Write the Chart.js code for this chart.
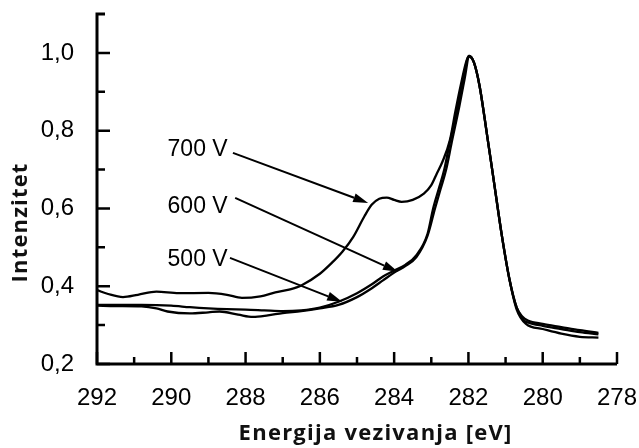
<!DOCTYPE html>
<html>
<head>
<meta charset="utf-8">
<script src="https://cdn.jsdelivr.net/npm/chart.js@4/dist/chart.umd.min.js"></script>
<style>
  html, body { margin: 0; padding: 0; background: #fff; }
  #wrap { width: 639px; height: 448px; }
</style>
</head>
<body>
<div id="wrap"><canvas id="mycanvas" width="639" height="448"></canvas></div>
<script>
// binding energy (eV) and intensity
var e700 = [292.0, 291.7, 291.3, 290.9, 290.4, 289.8, 289.0, 288.5, 288.1, 287.6, 287.2, 286.8, 286.5, 286.0, 285.7, 285.4, 285.1, 284.8, 284.6, 284.4, 284.2, 284.0, 283.8, 283.5, 283.2, 283.0, 282.85, 282.7, 282.5, 282.35, 282.2, 282.05, 281.98, 281.85, 281.7, 281.5, 281.3, 281.1, 280.9, 280.7, 280.55, 280.4, 280.0, 279.5, 279.0, 278.5];
var i700 = [0.390, 0.380, 0.372, 0.378, 0.386, 0.382, 0.383, 0.378, 0.370, 0.374, 0.384, 0.392, 0.402, 0.432, 0.458, 0.488, 0.527, 0.580, 0.610, 0.625, 0.628, 0.622, 0.617, 0.622, 0.638, 0.660, 0.690, 0.720, 0.775, 0.850, 0.920, 0.980, 0.992, 0.975, 0.915, 0.790, 0.660, 0.530, 0.420, 0.345, 0.322, 0.312, 0.303, 0.295, 0.287, 0.280];

var e600 = [292.0, 291.5, 290.8, 290.0, 289.5, 289.0, 288.5, 288.0, 287.5, 287.0, 286.5, 286.0, 285.5, 285.0, 284.6, 284.3, 284.0, 283.7, 283.4, 283.1, 282.95, 282.8, 282.65, 282.5, 282.3, 282.15, 281.98, 281.85, 281.7, 281.5, 281.3, 281.1, 280.9, 280.7, 280.5, 280.4, 280.0, 279.5, 279.0, 278.5];
var i600 = [0.352, 0.352, 0.352, 0.350, 0.346, 0.343, 0.341, 0.340, 0.338, 0.336, 0.338, 0.345, 0.360, 0.382, 0.405, 0.425, 0.440, 0.455, 0.480, 0.535, 0.600, 0.650, 0.700, 0.770, 0.855, 0.930, 0.992, 0.975, 0.915, 0.790, 0.660, 0.530, 0.420, 0.345, 0.312, 0.307, 0.298, 0.290, 0.282, 0.276];

var e500 = [292.0, 291.5, 290.8, 290.4, 290.1, 289.5, 289.0, 288.7, 288.2, 287.8, 287.4, 287.0, 286.5, 286.0, 285.5, 285.0, 284.6, 284.3, 284.0, 283.7, 283.4, 283.1, 282.9, 282.75, 282.6, 282.45, 282.25, 282.1, 281.98, 281.85, 281.7, 281.5, 281.3, 281.1, 280.9, 280.7, 280.45, 280.0, 279.5, 279.0, 278.5];
var i500 = [0.350, 0.349, 0.348, 0.343, 0.335, 0.330, 0.333, 0.335, 0.327, 0.321, 0.325, 0.331, 0.336, 0.343, 0.352, 0.372, 0.395, 0.415, 0.435, 0.452, 0.475, 0.530, 0.600, 0.650, 0.700, 0.770, 0.860, 0.935, 0.990, 0.975, 0.915, 0.790, 0.660, 0.530, 0.420, 0.340, 0.303, 0.290, 0.278, 0.270, 0.268];

var xTicks = [292, 290, 288, 286, 284, 282, 280, 278];
var xMinor = [291, 289, 287, 285, 283, 281, 279];
var yTicks = [0.2, 0.4, 0.6, 0.8, 1.0];
var yMinor = [0.3, 0.5, 0.7, 0.9];

// arrow labels: text, label anchor, arrow start, arrow tip (energy, intensity)
var noteText = ['700 V', '600 V', '500 V'];
var noteAt = [[290.1, 0.751], [290.1, 0.604], [290.1, 0.468]];
var noteFrom = [[288.34, 0.743], [288.28, 0.627], [288.42, 0.473]];
var noteTo = [[284.70, 0.614], [283.90, 0.437], [285.40, 0.360]];

function pts(e, v) {
  var out = [];
  for (var i = 0; i < e.length; i++) out.push({x: e[i], y: v[i]});
  return out;
}

function lineSet(label, e, v) {
  return {
    label: label,
    data: pts(e, v),
    borderColor: '#000',
    borderWidth: 2.3,
    pointRadius: 0,
    fill: false,
    cubicInterpolationMode: 'monotone'
  };
}

// stretch a title to a given width with letter spacing
function spacedText(ctx, txt, cx, cy, width) {
  ctx.letterSpacing = '0px';
  var w = ctx.measureText(txt).width;
  var sp = (width - w) / txt.length;
  ctx.letterSpacing = sp + 'px';
  ctx.fillText(txt, cx + sp / 2, cy);
  ctx.letterSpacing = '0px';
}

var framePlugin = {
  id: 'frame',
  afterDatasetsDraw: function(chart) {
    var ctx = chart.ctx;
    var x = chart.scales.x, y = chart.scales.y;
    var a = chart.chartArea;
    ctx.save();
    ctx.strokeStyle = '#000';
    ctx.lineCap = 'butt';

    // axis lines
    ctx.lineWidth = 3;
    ctx.beginPath();
    ctx.moveTo(a.left + 8, a.top);
    ctx.lineTo(a.left, a.top);
    ctx.lineTo(a.left, a.bottom);
    ctx.lineTo(a.right, a.bottom);
    ctx.stroke();

    // inward ticks
    ctx.lineWidth = 2.5;
    ctx.beginPath();
    xTicks.forEach(function(t) {
      var px = x.getPixelForValue(t);
      ctx.moveTo(px, a.bottom); ctx.lineTo(px, a.bottom - 12);
    });
    xMinor.forEach(function(t) {
      var px = x.getPixelForValue(t);
      ctx.moveTo(px, a.bottom); ctx.lineTo(px, a.bottom - 7);
    });
    yTicks.forEach(function(t) {
      var py = y.getPixelForValue(t);
      ctx.moveTo(a.left, py); ctx.lineTo(a.left + 13, py);
    });
    yMinor.forEach(function(t) {
      var py = y.getPixelForValue(t);
      ctx.moveTo(a.left, py); ctx.lineTo(a.left + 8, py);
    });
    ctx.stroke();

    // arrows with labels
    ctx.fillStyle = '#000';
    ctx.font = '23px "Liberation Sans", Arial, sans-serif';
    ctx.textBaseline = 'middle';
    ctx.textAlign = 'left';
    for (var i = 0; i < noteText.length; i++) {
      ctx.fillText(noteText[i], x.getPixelForValue(noteAt[i][0]), y.getPixelForValue(noteAt[i][1]));
      var x0 = x.getPixelForValue(noteFrom[i][0]), y0 = y.getPixelForValue(noteFrom[i][1]);
      var x1 = x.getPixelForValue(noteTo[i][0]), y1 = y.getPixelForValue(noteTo[i][1]);
      var ang = Math.atan2(y1 - y0, x1 - x0);
      var len = 15, half = 4.5;
      var bx = x1 - len * Math.cos(ang), by = y1 - len * Math.sin(ang);
      ctx.lineWidth = 2;
      ctx.beginPath();
      ctx.moveTo(x0, y0); ctx.lineTo(bx, by);
      ctx.stroke();
      ctx.beginPath();
      ctx.moveTo(x1, y1);
      ctx.lineTo(bx + half * Math.sin(ang), by - half * Math.cos(ang));
      ctx.lineTo(bx - half * Math.sin(ang), by + half * Math.cos(ang));
      ctx.closePath();
      ctx.fill();
    }

    // axis titles
    ctx.font = 'bold 22px "Open Sans", sans-serif';
    ctx.textAlign = 'center';
    ctx.fillStyle = '#111';
    spacedText(ctx, 'Energija vezivanja [eV]', 375, 434, 274);
    ctx.translate(21, 223);
    ctx.rotate(-Math.PI / 2);
    spacedText(ctx, 'Intenzitet', 0, 0, 120);
    ctx.restore();
  }
};

Chart.defaults.color = '#000';
Chart.defaults.font.family = '"Liberation Sans", Arial, sans-serif';

var ctx = document.getElementById('mycanvas');
var chart = new Chart(ctx, {
  type: 'line',
  data: {
    datasets: [
      lineSet('700 V', e700, i700),
      lineSet('600 V', e600, i600),
      lineSet('500 V', e500, i500)
    ]
  },
  options: {
    responsive: false,
    animation: false,
    layout: { padding: { left: 0, right: 22, top: 14, bottom: 0 } },
    plugins: { legend: { display: false }, tooltip: { enabled: false } },
    scales: {
      x: {
        type: 'linear',
        reverse: true,
        min: 278,
        max: 292,
        grid: { display: false },
        border: { display: false },
        ticks: { font: { size: 24 }, padding: 12, maxRotation: 0 },
        afterBuildTicks: function(s) { s.ticks = xTicks.map(function(v) { return {value: v}; }); },
        afterFit: function(s) { s.height = 84; s.paddingLeft = 0; s.paddingRight = 0; }
      },
      y: {
        type: 'linear',
        min: 0.2,
        max: 1.1,
        grid: { display: false },
        border: { display: false },
        ticks: {
          font: { size: 24 },
          padding: 15,
          callback: function(v) { return v.toFixed(1).replace('.', ','); }
        },
        afterBuildTicks: function(s) { s.ticks = yTicks.map(function(v) { return {value: v}; }); },
        afterFit: function(s) { s.width = 97; s.paddingTop = 0; s.paddingBottom = 0; }
      }
    }
  },
  plugins: [framePlugin]
});
</script>
</body>
</html>
